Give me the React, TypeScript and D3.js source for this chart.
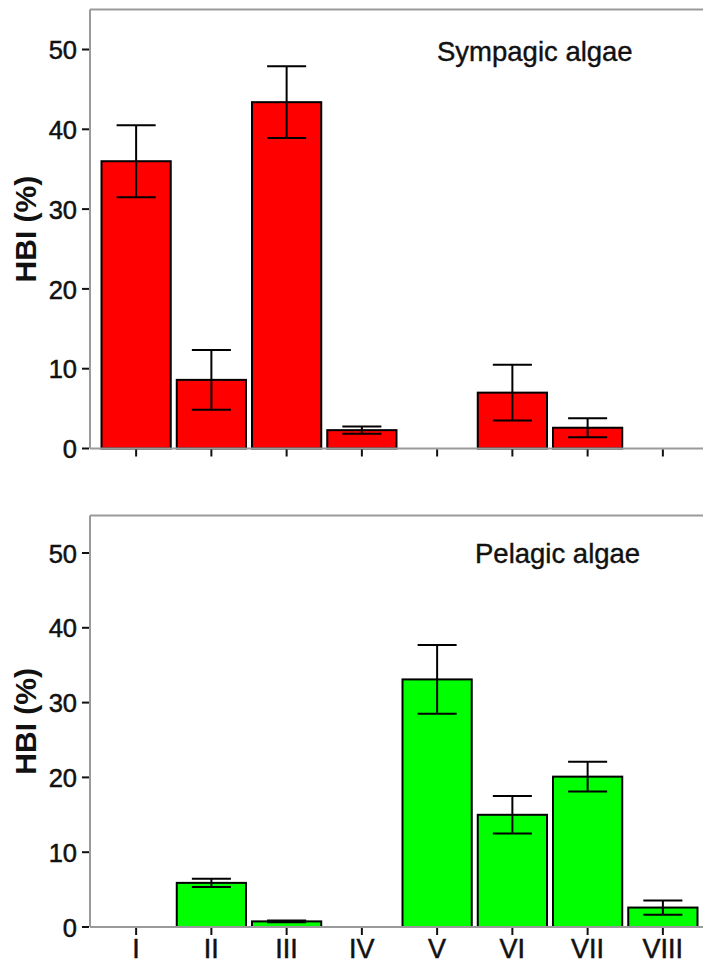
import React from "react";
import * as d3 from "d3";

const categories = ["I", "II", "III", "IV", "V", "VI", "VII", "VIII"];
const sympagicValues = [36.0, 8.6, 43.4, 2.3, 0, 7.0, 2.6, 0];
const sympagicErrors = [4.5, 3.75, 4.5, 0.45, 0, 3.5, 1.2, 0];
const pelagicValues = [0, 5.9, 0.75, 0, 33.1, 15.0, 20.1, 2.6];
const pelagicErrors = [0, 0.55, 0.12, 0, 4.6, 2.5, 2.0, 0.95];
const yTicks = [0, 10, 20, 30, 40, 50];
const panelTitles = ["Sympagic algae", "Pelagic algae"];
const yLabel = "HBI (%)";

const W = 703;
const H = 965;
const FONT = "'Liberation Sans', Arial, Helvetica, sans-serif";
const AXIS_GRAY = "#9a9a9a";
const INK = "#111";

const x = d3
  .scaleBand<string>()
  .domain(categories)
  .range([90, 709])
  .paddingInner(0.08)
  .paddingOuter(0.153);

type PanelProps = {
  values: number[];
  errors: number[];
  color: string;
  yRange: [number, number];
  title: string;
  titleX: number;
  titleY: number;
  showXLabels: boolean;
};

function Panel({ values, errors, color, yRange, title, titleX, titleY, showXLabels }: PanelProps) {
  const y = d3.scaleLinear().domain([0, 55]).range(yRange);
  const left = 90;
  const bw = x.bandwidth();
  const capHalf = bw * 0.282;
  const y0 = y(0);
  const yTop = y(55);
  const mid = (y0 + yTop) / 2;
  return (
    <g>
      <line x1={left} x2={W + 10} y1={yTop} y2={yTop} stroke={AXIS_GRAY} strokeWidth={2} />
      <line x1={left} x2={left} y1={yTop} y2={y0} stroke={AXIS_GRAY} strokeWidth={2} />
      {categories.map((c, i) =>
        values[i] > 0 ? (
          <rect
            key={"b" + c}
            x={x(c)!}
            y={y(values[i])}
            width={bw}
            height={y0 - y(values[i])}
            fill={color}
            stroke="#000"
            strokeWidth={2}
          />
        ) : null
      )}
      {categories.map((c, i) => {
        if (!(values[i] > 0) || !(errors[i] > 0)) return null;
        const cx = x(c)! + bw / 2;
        const hi = y(values[i] + errors[i]);
        const lo = y(values[i] - errors[i]);
        return (
          <g key={"e" + c} stroke="#000" strokeWidth={2}>
            <line x1={cx} x2={cx} y1={hi} y2={lo} />
            <line x1={cx - capHalf} x2={cx + capHalf} y1={hi} y2={hi} />
            <line x1={cx - capHalf} x2={cx + capHalf} y1={lo} y2={lo} />
          </g>
        );
      })}
      <line x1={left} x2={W + 10} y1={y0} y2={y0} stroke={AXIS_GRAY} strokeWidth={2} />
      {categories.map((c) => {
        const cx = x(c)! + bw / 2;
        return (
          <g key={"t" + c}>
            <line x1={cx} x2={cx} y1={y0 + 1} y2={y0 + 8} stroke={INK} strokeWidth={2} />
            {showXLabels ? (
              <text
                x={cx}
                y={y0 + 31}
                textAnchor="middle"
                fontFamily={FONT}
                fontSize={27}
                fill={INK}
                stroke={INK}
                strokeWidth={0.5}
              >
                {c}
              </text>
            ) : null}
          </g>
        );
      })}
      {yTicks.map((t) => (
        <g key={"y" + t}>
          <line x1={left - 8} x2={left - 1} y1={y(t)} y2={y(t)} stroke={INK} strokeWidth={2} />
          <text
            x={left - 13}
            y={y(t)}
            dy="0.38em"
            textAnchor="end"
            fontFamily={FONT}
            fontSize={25.5}
            fill={INK}
            stroke={INK}
            strokeWidth={0.5}
          >
            {t}
          </text>
        </g>
      ))}
      <text
        transform={`translate(36,${mid}) rotate(-90)`}
        textAnchor="middle"
        fontFamily={FONT}
        fontSize={30}
        fontWeight="bold"
        fill={INK}
      >
        {yLabel}
      </text>
      <text
        x={titleX}
        y={titleY}
        fontFamily={FONT}
        fontSize={27.5}
        fill={INK}
        stroke={INK}
        strokeWidth={0.4}
      >
        {title}
      </text>
    </g>
  );
}

export default function App() {
  return (
    <svg
      width={W}
      height={H}
      style={{ position: "absolute", left: 0, top: 0, display: "block", background: "#fff" }}
    >
      <rect x={0} y={0} width={W} height={H} fill="#fff" />
      <Panel
        values={sympagicValues}
        errors={sympagicErrors}
        color="#ff0000"
        yRange={[448.5, 9.6]}
        title={panelTitles[0]}
        titleX={437}
        titleY={61}
        showXLabels={false}
      />
      <Panel
        values={pelagicValues}
        errors={pelagicErrors}
        color="#00ff00"
        yRange={[927, 515.6]}
        title={panelTitles[1]}
        titleX={475}
        titleY={563}
        showXLabels={true}
      />
    </svg>
  );
}
